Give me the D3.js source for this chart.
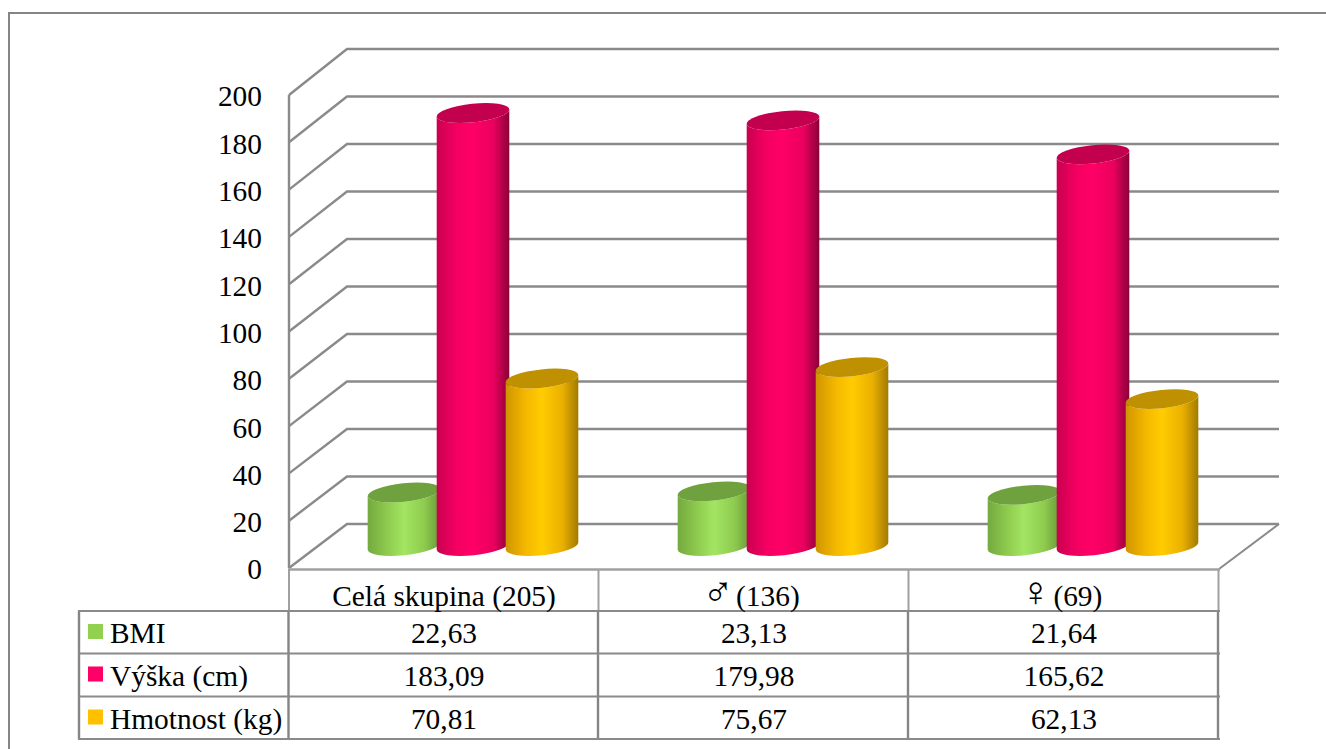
<!DOCTYPE html>
<html>
<head>
<meta charset="utf-8">
<script src="https://cdn.jsdelivr.net/npm/d3@7"></script>
<style>
    body { margin: 0; background: #fff; overflow: hidden; }
    svg { display: block; }
    text { font-family: "Liberation Serif", "Times New Roman", serif; font-size: 29.4px; fill: #000; white-space: pre; }
</style>
</head>
<body>
<svg id="chart" width="1326" height="749"></svg>
<script>
const categories = ["Celá skupina (205)", "♂ (136)", "♀ (69)"];
const seriesNames = ["BMI", "Výška (cm)", "Hmotnost (kg)"];
const bmi = [22.63, 23.13, 21.64];
const vyska = [183.09, 179.98, 165.62];
const hmotnost = [70.81, 75.67, 62.13];
const yTicks = [0, 20, 40, 60, 80, 100, 120, 140, 160, 180, 200];
const values = [bmi, vyska, hmotnost];

// base, top cap, and the stops of the side shading for each series
const swatch = ["#92d050", "#ff0066", "#ffc000"];
const caps = ["#6fa23e", "#c2004e", "#bf9000"];
const shades = [
    ["#74a93f", "#8fcc4e", "#a3e563", "#8fcb4e", "#679a38"],
    ["#c9004f", "#f50062", "#ff0066", "#eb005e", "#8a0038"],
    ["#cf9500", "#f5b800", "#ffcc00", "#ebb000", "#a17a00"]
];

const gridColor = "#8a8a8a";
const svg = d3.select("#chart");

const fmt = d3.formatLocale({ decimal: ",", thousands: " ", grouping: [3], currency: ["", ""] }).format(".2f");

// front and back wall of the 3d box
const y = d3.scaleLinear().domain([0, 200]).range([568, 95]);
const yBack = d3.scaleLinear().domain([0, 200]).range([524, 49]);
const depthX = 58;
const backRight = 1279;

const x0 = d3.scaleBand().domain(categories).range([289, 1219]);
const x1 = d3.scaleBand().domain(seriesNames).range([0, x0.bandwidth()]).paddingInner(0).paddingOuter(0.746);

// outer frame runs off the page on the right and bottom
svg.append("path")
    .attr("d", "M9,749V13H1326")
    .attr("fill", "none")
    .attr("stroke", "#858585")
    .attr("stroke-width", 2);

// gridlines: along the side wall, then along the back wall
svg.append("g").selectAll("polyline")
    .data(yTicks)
    .enter()
    .append("polyline")
    .attr("points", d => `${x0.range()[0]},${y(d)} ${x0.range()[0] + depthX},${yBack(d)} ${backRight},${yBack(d)}`)
    .attr("fill", "none")
    .attr("stroke", gridColor)
    .attr("stroke-width", 2.4);

// floor edge on the right
svg.append("line")
    .attr("x1", 1219).attr("y1", y(0) + 1)
    .attr("x2", backRight).attr("y2", yBack(0))
    .attr("stroke", gridColor)
    .attr("stroke-width", 2);

svg.append("line")
    .attr("x1", 289).attr("y1", y(200))
    .attr("x2", 289).attr("y2", y(0))
    .attr("stroke", gridColor)
    .attr("stroke-width", 2.4);

const axis = d3.axisLeft(y).tickValues(yTicks).tickSize(0).tickPadding(27);
const axisG = svg.append("g").attr("transform", "translate(289,1.5)").call(axis);
axisG.select(".domain").remove();
axisG.selectAll("text").style("font-family", "Liberation Serif").style("font-size", "29.4px").attr("fill", "#000");

// gradients for the cylinder sides
const defs = svg.append("defs");
const stopAt = [0, 0.28, 0.5, 0.78, 1];
seriesNames.forEach(function(name, i) {
    const g = defs.append("linearGradient").attr("id", "side" + i);
    shades[i].forEach(function(c, j) {
        g.append("stop").attr("offset", stopAt[j]).attr("stop-color", c);
    });
});

// cylinders
const rx = 36.5, ry = 9.2, tilt = -6;
const tipX = rx * Math.cos(tilt * Math.PI / 180);
const tipY = rx * Math.sin(tilt * Math.PI / 180);
const lift = 22;
const shiftX = depthX / 2;

const bars = [];
categories.forEach(function(cat, c) {
    seriesNames.forEach(function(name, s) {
        bars.push({ cat: cat, name: name, s: s, v: values[s][c] });
    });
});

const cyl = svg.append("g").selectAll(".cyl")
    .data(bars)
    .enter()
    .append("g")
    .attr("class", "cyl")
    .attr("transform", d => `translate(${x0(d.cat) + x1(d.name) + x1.bandwidth() / 2 + shiftX},0)`);

cyl.append("path")
    .attr("fill", d => `url(#side${d.s})`)
    .attr("d", function(d) {
        const top = y(d.v) - lift;
        const base = y(0) - lift;
        return `M${-tipX},${top - tipY}L${-tipX},${base - tipY}` +
            `A${rx},${ry} ${tilt} 0 0 ${tipX},${base + tipY}` +
            `L${tipX},${top + tipY}` +
            `A${rx},${ry} ${tilt} 0 1 ${-tipX},${top - tipY}Z`;
    });

cyl.append("ellipse")
    .attr("rx", rx)
    .attr("ry", ry)
    .attr("fill", d => caps[d.s])
    .attr("transform", d => `translate(0,${y(d.v) - lift}) rotate(${tilt})`);

// data table under the plot
const rowY = [611, 653.5, 696.5, 739];
const colX = [289, 598.5, 908.5, 1218.5];
const table = svg.append("g");

table.selectAll(".hcol")
    .data(colX)
    .enter()
    .append("line")
    .attr("class", "hcol")
    .attr("x1", d => d).attr("x2", d => d)
    .attr("y1", 569).attr("y2", rowY[0])
    .attr("stroke", "#a0a0a0")
    .attr("stroke-width", 2);

table.selectAll(".bcol")
    .data([79].concat(colX.map(d => d - 0.5)))
    .enter()
    .append("line")
    .attr("class", "bcol")
    .attr("x1", d => d).attr("x2", d => d)
    .attr("y1", rowY[0]).attr("y2", rowY[3])
    .attr("stroke", "#858585")
    .attr("stroke-width", 2.4);

table.selectAll(".row")
    .data(rowY)
    .enter()
    .append("line")
    .attr("class", "row")
    .attr("x1", 78).attr("x2", 1220)
    .attr("y1", d => d).attr("y2", d => d)
    .attr("stroke", "#8a8a8a")
    .attr("stroke-width", 2.2);

table.append("line")
    .attr("x1", 288).attr("x2", 1220)
    .attr("y1", 569.5).attr("y2", 569.5)
    .attr("stroke", "#a0a0a0")
    .attr("stroke-width", 2.4);

// header cells, the gender signs are set larger and the space after them narrower
const head = table.selectAll(".head")
    .data(categories)
    .enter()
    .append("text")
    .attr("class", "head")
    .attr("x", d => x0(d) + x0.bandwidth() / 2)
    .attr("y", 606)
    .attr("text-anchor", "middle");

head.each(function(d) {
    const sign = /^[♂♀]/.test(d);
    const el = d3.select(this);
    if (sign) {
        el.attr("dx", -3);
        el.append("tspan").style("font-size", "42px").text(d[0]);
        el.append("tspan").style("font-size", "9px").text(" ");
        el.append("tspan").text(d.slice(2));
    } else {
        el.text(d);
    }
});

seriesNames.forEach(function(name, s) {
    const base = rowY[s] + 32;
    table.append("rect")
        .attr("x", 88).attr("y", rowY[s] + 13)
        .attr("width", 15).attr("height", 15)
        .attr("fill", swatch[s]);
    table.append("text")
        .attr("x", 110).attr("y", base)
        .text(name);
    table.selectAll(".cell" + s)
        .data(values[s])
        .enter()
        .append("text")
        .attr("class", "cell" + s)
        .attr("x", (d, i) => x0(categories[i]) + x0.bandwidth() / 2)
        .attr("y", base)
        .attr("text-anchor", "middle")
        .text(d => fmt(d));
});
</script>
</body>
</html>
